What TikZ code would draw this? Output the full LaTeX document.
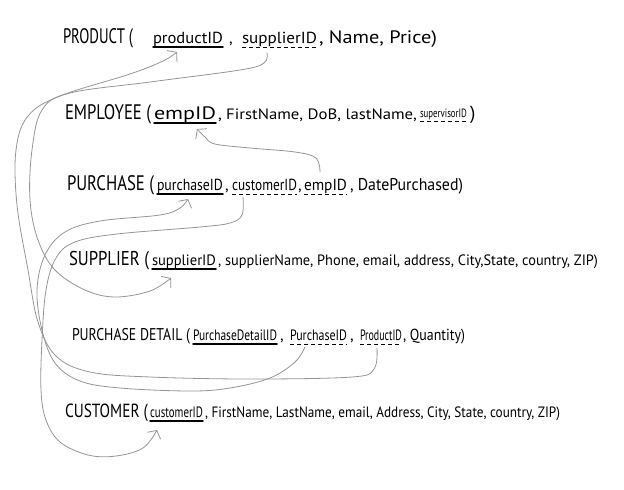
\documentclass[tikz,border=0pt]{standalone}
\usepackage{fontspec}
\setmainfont{PT Sans}
\usepackage{graphicx}
\usetikzlibrary{arrows.meta}
\newcommand{\fw}[2]{\resizebox{#1pt}{\height}{#2}}
\newcommand{\fs}[1]{\fontsize{#1}{#1}\selectfont}
\definecolor{linegray}{HTML}{959595}
\tikzset{
  txt/.style={anchor=base west, inner sep=0pt, outer sep=0pt, text=black},
  pkline/.style={black, line width=1.5pt, line cap=round},
  fkline/.style={black, line width=0.9pt, dash pattern=on 4pt off 3pt},
  conn/.style={draw=linegray, line width=0.8pt, line cap=round, line join=round,
    -{Straight Barb[length=6pt,width=15pt,line width=0.8pt]}},
}
\begin{document}
\begin{tikzpicture}[x=1pt,y=-1pt]
\useasboundingbox (0,0) rectangle (624,490);

% PRODUCT
\node[txt, font=\fs{21}] (hP) at (63,43) {\fw{70}{PRODUCT (}};
\node[txt, font=\fs{16}] (kPid) at (153,43) {\fw{70}{productID}};
\node[txt, font=\fs{16}] (cP1) at (229,43) {,};
\node[txt, font=\fs{16}] (fPsup) at (242,43) {\fw{75}{supplierID}};
\node[txt, font=\fs{18}] (rP) at (319,43) {\fw{118}{, Name, Price)}};

% EMPLOYEE
\node[txt, font=\fs{21}] (hE) at (65,119) {\fw{86}{EMPLOYEE (}};
\node[txt, font=\fs{18}] (kEid) at (154,119) {\fw{62}{empID}};
\node[txt, font=\fs{15}] (rE1) at (218,119) {\fw{199}{, FirstName, DoB, lastName,}};
\node[txt, font=\fs{12}] (fEsup) at (420,117) {\fw{47}{supervisorID}};
\node[txt, font=\fs{19}] (rE2) at (470,119) {)};

% PURCHASE
\node[txt, font=\fs{21}] (hPu) at (67,190) {\fw{87}{PURCHASE (}};
\node[txt, font=\fs{16}] (kPuid) at (157,190) {\fw{66}{purchaseID}};
\node[txt, font=\fs{16}] (cPu1) at (225,190) {,};
\node[txt, font=\fs{16}] (fPucust) at (232,190) {\fw{65}{customerID}};
\node[txt, font=\fs{16}] (cPu2) at (298,190) {,};
\node[txt, font=\fs{16}] (fPuemp) at (304,190) {\fw{43}{empID}};
\node[txt, font=\fs{17}] (rPu) at (350,190) {\fw{113}{, DatePurchased)}};

% SUPPLIER
\node[txt, font=\fs{20}] (hS) at (69,265) {\fw{80}{SUPPLIER (}};
\node[txt, font=\fs{15}] (kSid) at (152,265) {\fw{64}{supplierID}};
\node[txt, font=\fs{15}] (rS) at (218,265) {\fw{380}{, supplierName, Phone, email, address, City,State, country, ZIP)}};

% PURCHASE DETAIL
\node[txt, font=\fs{17}] (hPD) at (72,340) {\fw{118}{PURCHASE DETAIL (}};
\node[txt, font=\fs{15}] (kPD) at (193,340) {\fw{84}{PurchaseDetailID}};
\node[txt, font=\fs{16}] (cPD1) at (280,340) {,};
\node[txt, font=\fs{15}] (fPDpur) at (290,340) {\fw{57}{PurchaseID}};
\node[txt, font=\fs{16}] (cPD2) at (350,340) {,};
\node[txt, font=\fs{15}] (fPDprod) at (360,340) {\fw{42}{ProductID}};
\node[txt, font=\fs{16}] (rPD) at (403,340) {\fw{62}{, Quantity)}};

% CUSTOMER
\node[txt, font=\fs{19}] (hC) at (65,417) {\fw{83}{CUSTOMER (}};
\node[txt, font=\fs{15}] (kC) at (150,417) {\fw{53}{customerID}};
\node[txt, font=\fs{15}] (rC) at (205,417) {\fw{355}{, FirstName, LastName, email, Address, City, State, country, ZIP)}};

% key underlines
\foreach \n in {kPid,kEid,kPuid,kSid,kPD,kC}
  \draw[pkline] ([yshift=-4pt]\n.base west) -- ([yshift=-4pt]\n.base east);
\foreach \n in {fPsup,fEsup,fPucust,fPuemp,fPDpur,fPDprod}
  \draw[fkline] ([yshift=-4pt]\n.base west) -- ([yshift=-4pt]\n.base east);

% connector ends
\coordinate (sPDprod) at ([xshift=17pt,yshift=-8pt]fPDprod.base west);
\coordinate (tPid)    at ([xshift=24pt,yshift=-9pt]kPid.base west);
\coordinate (sPsup)   at ([xshift=25pt,yshift=-10pt]fPsup.base west);
\coordinate (tSid)    at ([xshift=19pt,yshift=-13pt]kSid.base west);
\coordinate (sPuemp)  at ([xshift=16pt,yshift=18pt]fPuemp.base west);
\coordinate (tEid)    at ([xshift=43pt,yshift=-10pt]kEid.base west);
\coordinate (sPucust) at ([xshift=11pt,yshift=-7pt]fPucust.base west);
\coordinate (tCid)    at ([xshift=7pt,yshift=-13pt]kC.base west);
\coordinate (sPDpur)  at ([xshift=15pt,yshift=-7pt]fPDpur.base west);
\coordinate (tPuid)   at ([xshift=31pt,yshift=-9pt]kPuid.base west);

% PURCHASE DETAIL.ProductID -> PRODUCT.productID
\draw[conn] plot[smooth, tension=0.6] coordinates {(sPDprod) (374,369) (352,377) (250,379) (150,377) (90,372) (56,356) (38,322) (28,270) (17,205) (16,150) (28,116) (60,96) (130,74) (163,61) (tPid)};
% PRODUCT.supplierID -> SUPPLIER.supplierID
\draw[conn] plot[smooth, tension=0.6] coordinates {(sPsup) (264,63) (240,70) (150,82) (70,93) (42,110) (32,150) (30,200) (38,240) (55,270) (85,290) (115,297) (150,291) (tSid)};
% PURCHASE.empID -> EMPLOYEE.empID
\draw[conn] plot[smooth, tension=0.6] coordinates {(sPuemp) (316,158) (295,152) (250,148) (215,144) (205,137) (tEid)};
% PURCHASE.customerID -> CUSTOMER.customerID
\draw[conn] plot[smooth, tension=0.6] coordinates {(sPucust) (242,215) (230,223) (200,227) (117,234) (75,242) (56,258) (46,290) (42,340) (41,390) (46,420) (60,442) (88,455) (116,456) (143,448) (tCid)};
% PURCHASE DETAIL.PurchaseID -> PURCHASE.purchaseID
\draw[conn] plot[smooth, tension=0.6] coordinates {(sPDpur) (295,362) (270,378) (230,388) (190,391) (120,388) (80,381) (55,363) (42,330) (37,290) (45,255) (65,232) (100,221) (160,215) (180,208) (tPuid)};
\end{tikzpicture}
\end{document}
